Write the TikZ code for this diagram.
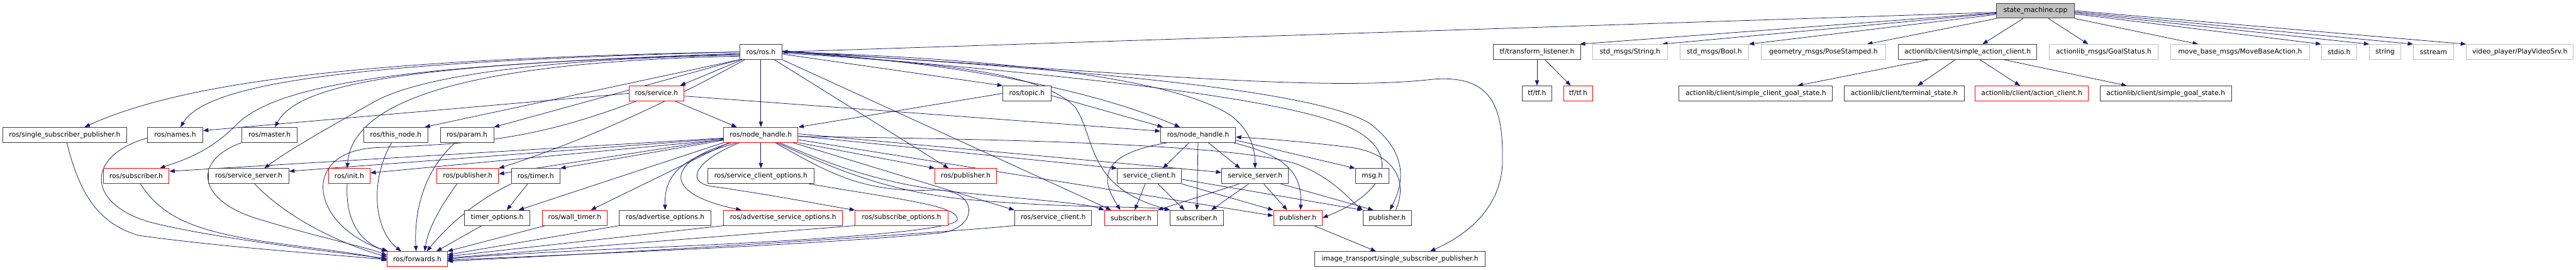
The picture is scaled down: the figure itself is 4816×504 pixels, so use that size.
\documentclass[tikz,border=0pt]{standalone}
\usepackage{fontspec}
\setmainfont{DejaVu Sans}
\usetikzlibrary{arrows.meta,backgrounds}
\definecolor{edgec}{HTML}{191970}
\definecolor{nblack}{HTML}{404040}
\definecolor{nred}{HTML}{FF0000}
\definecolor{ngray}{HTML}{BFBFBF}
\definecolor{smfill}{HTML}{BFBFBF}
\newcommand\graphfont{\fontsize{12.6}{15}\selectfont}
\tikzset{
  nbox/.style={draw=nblack, line width=1.1pt, minimum height=28pt, inner sep=0pt, font=\graphfont, fill=white},
  rbox/.style={nbox, draw=nred},
  gbox/.style={nbox, draw=ngray},
  dep/.style={draw=edgec, line width=0.9pt, -{Triangle[length=10pt,width=7.5pt]}, fill=none},
}
\begin{document}
\begin{tikzpicture}[x=1pt,y=1pt]
\useasboundingbox (0,0) rectangle (4816,-504);
% row 0
\node[nbox, fill=smfill, minimum width=145] (sm) at (3805.5,-20) {state\_machine.cpp};
% row 1
\node[nbox, minimum width=79] (rr) at (1422.5,-97) {ros/ros.h};
\node[nbox, minimum width=163] (tfl) at (2873.5,-97) {tf/transform\_listener.h};
\node[gbox, minimum width=139] (str) at (3047.5,-97) {std\_msgs/String.h};
\node[gbox, minimum width=128] (bool) at (3205,-97) {std\_msgs/Bool.h};
\node[gbox, minimum width=232] (pose) at (3409,-97) {geometry\_msgs/PoseStamped.h};
\node[nbox, minimum width=259] (sac) at (3678.5,-97) {actionlib/client/simple\_action\_client.h};
\node[gbox, minimum width=204] (gs) at (3933,-97) {actionlib\_msgs/GoalStatus.h};
\node[gbox, minimum width=260] (mb) at (4188,-97) {move\_base\_msgs/MoveBaseAction.h};
\node[gbox, minimum width=66] (stdio) at (4373,-97) {stdio.h};
\node[gbox, minimum width=58] (string) at (4459,-97) {string};
\node[gbox, minimum width=75] (sstream) at (4549.5,-97) {sstream};
\node[gbox, minimum width=200] (pv) at (4711,-97) {video\_player/PlayVideoSrv.h};
% row 2
\node[rbox, minimum width=103] (rsv) at (1227.5,-174.5) {ros/service.h};
\node[nbox, minimum width=90] (tp) at (1920,-174.5) {ros/topic.h};
\node[nbox, minimum width=55] (tf1) at (2873.5,-174.5) {tf/tf.h};
\node[rbox, minimum width=55] (tf2) at (2950.5,-174.5) {tf/tf.h};
\node[nbox, minimum width=287] (scgs) at (3282.5,-174.5) {actionlib/client/simple\_client\_goal\_state.h};
\node[nbox, minimum width=224] (ts) at (3560,-174.5) {actionlib/client/terminal\_state.h};
\node[rbox, minimum width=211] (ac) at (3798.5,-174.5) {actionlib/client/action\_client.h};
\node[nbox, minimum width=246] (sgs) at (4049,-174.5) {actionlib/client/simple\_goal\_state.h};
% row 3
\node[nbox, minimum width=232] (ssp) at (121,-252) {ros/single\_subscriber\_publisher.h};
\node[nbox, minimum width=103] (nm) at (327.5,-252) {ros/names.h};
\node[nbox, minimum width=104] (ms) at (504,-252) {ros/master.h};
\node[nbox, minimum width=120] (tn) at (740,-252) {ros/this\_node.h};
\node[nbox, minimum width=100] (pr) at (873,-252) {ros/param.h};
\node[rbox, minimum width=139] (nhr) at (1422.5,-252) {ros/node\_handle.h};
\node[nbox, minimum width=140] (nhb) at (2240,-252) {ros/node\_handle.h};
% row 4
\node[rbox, minimum width=123] (subros) at (254.5,-329) {ros/subscriber.h};
\node[nbox, minimum width=150] (ssros) at (465,-329) {ros/service\_server.h};
\node[rbox, minimum width=78] (init) at (653,-329) {ros/init.h};
\node[rbox, minimum width=115] (puba) at (874.5,-329) {ros/publisher.h};
\node[nbox, minimum width=91] (timer) at (1001.5,-329) {ros/timer.h};
\node[nbox, minimum width=199] (sco) at (1422.5,-329) {ros/service\_client\_options.h};
\node[rbox, minimum width=115] (pubx) at (1805.5,-329) {ros/publisher.h};
\node[nbox, minimum width=120] (sc) at (2149,-329) {service\_client.h};
\node[nbox, minimum width=125] (ss) at (2346.5,-329) {service\_server.h};
\node[nbox, minimum width=63] (msg) at (2565.5,-329) {msg.h};
% row 5
\node[nbox, minimum width=123] (tmo) at (929.5,-407) {timer\_options.h};
\node[rbox, minimum width=121] (wt) at (1074.5,-407) {ros/wall\_timer.h};
\node[nbox, minimum width=171] (ao) at (1243.5,-407) {ros/advertise\_options.h};
\node[rbox, minimum width=222] (aso) at (1464,-407) {ros/advertise\_service\_options.h};
\node[rbox, minimum width=173] (so) at (1685.5,-407) {ros/subscribe\_options.h};
\node[nbox, minimum width=144] (rsc) at (1969,-407) {ros/service\_client.h};
\node[rbox, minimum width=99] (subr) at (2114.5,-407) {subscriber.h};
\node[nbox, minimum width=99] (subb) at (2237.5,-407) {subscriber.h};
\node[rbox, minimum width=91] (pubr) at (2426.5,-407) {publisher.h};
\node[nbox, minimum width=91] (pubbk) at (2593.5,-407) {publisher.h};
% row 6
\node[rbox, minimum width=112] (fw) at (780,-484) {ros/forwards.h};
\node[nbox, minimum width=319] (it) at (2617.5,-484) {image\_transport/single\_subscriber\_publisher.h};

\begin{pgfonlayer}{background}
\fill[white] (0,0) rectangle (4816,-504);
% state_machine.cpp
\draw[dep] ([yshift=-3pt]sm.west) -- (rr.east);
\draw[dep] ([yshift=-4pt]sm.west) -- ([xshift=-2pt]tfl.north east);
\draw[dep] ([yshift=-5pt]sm.west) -- ([xshift=-10pt]str.north east);
\draw[dep] ([yshift=-7pt]sm.west) -- (bool.north east);
\draw[dep] (sm.south west) -- ([xshift=-35pt]pose.north east);
\draw[dep] ([xshift=-23pt]sm.south) -- ([xshift=28pt]sac.north);
\draw[dep] ([xshift=24pt]sm.south) -- ([xshift=-29pt]gs.north);
\draw[dep] (sm.south east) -- ([xshift=52pt]mb.north west);
\draw[dep] ([yshift=-6pt]sm.east) -- (stdio.north west);
\draw[dep] ([yshift=-4pt]sm.east) -- (string.north west);
\draw[dep] ([yshift=-2pt]sm.east) -- (sstream.north west);
\draw[dep] (sm.east) -- (pv.north west);
% simple_action_client
\draw[dep] ([xshift=-73pt]sac.south) -- ([xshift=78pt]scgs.north);
\draw[dep] ([xshift=-23pt]sac.south) -- ([xshift=25pt]ts.north);
\draw[dep] ([xshift=23pt]sac.south) -- ([xshift=-22pt]ac.north);
\draw[dep] ([xshift=68pt]sac.south) -- ([xshift=-73pt]sgs.north);
% transform_listener
\draw[dep] (tfl) -- (tf1);
\draw[dep] ([xshift=15pt]tfl.south) -- ([xshift=-14pt]tf2.north);
% ros/ros.h
\draw[dep] (rr.west) .. controls (700,-110) and (350,-150) .. ([xshift=37pt]ssp.north);
\draw[dep] (rr.west) .. controls (700,-115) and (390,-150) .. ([xshift=10pt]nm.north);
\draw[dep] ([yshift=-3pt]rr.west) .. controls (800,-120) and (560,-150) .. ([xshift=10pt]ms.north);
\draw[dep] ([yshift=-4pt]rr.west) .. controls (800,-120) and (520,-150) .. (440,-235) .. controls (390,-285) and (340,-300) .. ([xshift=44pt]subros.north);
\draw[dep] ([yshift=-6pt]rr.west) .. controls (1000,-110) and (780,-145) .. (700,-190) .. controls (620,-235) and (540,-280) .. ([xshift=29pt]ssros.north);
\draw[dep] ([yshift=-8pt]rr.west) .. controls (900,-115) and (660,-180) .. ([xshift=-4pt]init.north);
\draw[dep] (rr.south west) -- ([xshift=54pt]tn.north);
\draw[dep] (rr.south west) -- (pr.north east);
\draw[dep] ([xshift=5pt]rr.south west) -- ([xshift=44pt]rsv.north);
\draw[dep] ([xshift=10pt]rr.south west) .. controls (1250,-190) and (1100,-260) .. (puba.north east);
\draw[dep] (rr) -- (nhr);
\draw[dep] ([yshift=-4pt]rr.east) -- (tp.north west);
\draw[dep] ([xshift=-15pt]rr.south east) -- ([xshift=-32pt]pubx.north);
\draw[dep] (rr.south east) -- ([xshift=-37pt]subr.north);
\draw[dep] ([yshift=-2pt]rr.east) .. controls (1800,-120) and (1950,-140) .. (2010,-200) .. controls (2050,-260) and (2030,-350) .. (subb.north west);
\draw[dep] (rr.east) .. controls (1900,-110) and (2200,-150) .. (2300,-215) .. controls (2340,-245) and (2346,-280) .. (ss.north);
\draw[dep] (rr.east) .. controls (1700,-110) and (2000,-150) .. ([xshift=-34pt]nhb.north);
\draw[dep] ([yshift=2pt]rr.east) .. controls (2000,-130) and (2450,-165) .. (2560,-230) .. controls (2640,-290) and (2620,-350) .. ([xshift=5pt]pubbk.north);
\draw[dep] ([yshift=1pt]rr.east) .. controls (2000,-140) and (2450,-185) .. (2545,-250) .. controls (2620,-300) and (2580,-365) .. (pubr.east);
\draw[dep] (rr.east) .. controls (2000,-125) and (2450,-175) .. (2680,-148) .. controls (2790,-140) and (2810,-200) .. (2809,-300) .. controls (2808,-390) and (2740,-440) .. ([xshift=56pt]it.north);
% ros/service.h
\draw[dep] (rsv.west) -- ([yshift=8pt]nm.east);
\draw[dep] ([xshift=35pt]rsv.south) -- ([xshift=-45pt]nhr.north);
\draw[dep] ([yshift=-5pt]rsv.east) -- ([yshift=7pt]nhb.west);
\draw[dep] ([xshift=-38pt]rsv.south) .. controls (1000,-260) and (900,-268) .. (700,-276) .. controls (560,-285) and (580,-420) .. (fw.north west);
% ros/topic.h
\draw[dep] (tp.west) -- (nhr.north east);
\draw[dep] ([yshift=-4pt]tp.east) -- ([xshift=-66pt]nhb.north);
% ros/node_handle.h (red)
\draw[dep] (nhr) -- (sco);
\draw[dep] ([xshift=-45pt]nhr.south) .. controls (1300,-290) and (1241,-310) .. (ao.north);
\draw[dep] ([xshift=-55pt]nhr.south) .. controls (1250,-300) and (1230,-360) .. ([xshift=-78pt]aso.north);
\draw[dep] ([xshift=-40pt]nhr.south) .. controls (1300,-300) and (1280,-340) .. (1330,-348) .. controls (1450,-365) and (1550,-385) .. (so.north west);
\draw[dep] (nhr.south east) -- (pubx.north west);
\draw[dep] ([yshift=-8pt]nhr.west) -- ([yshift=4pt]puba.east);
\draw[dep] ([yshift=-10pt]nhr.west) -- (timer.north east);
\draw[dep] ([yshift=-9pt]nhr.west) -- ([yshift=6pt]init.east);
\draw[dep] ([yshift=-6pt]nhr.west) -- ([yshift=9pt]subros.east);
\draw[dep] ([yshift=-7pt]nhr.west) -- ([yshift=9pt]ssros.east);
\draw[dep] (nhr.south west) -- ([xshift=40pt]tmo.north);
\draw[dep] ([xshift=10pt]nhr.south west) -- ([xshift=30pt]wt.north);
\draw[dep] ([xshift=-10pt]nhr.south east) -- (rsc.north west);
\draw[dep] ([xshift=35pt]nhr.south) .. controls (1560,-310) and (1650,-345) .. (1800,-360) .. controls (1950,-375) and (2030,-380) .. (subr.north west);
\draw[dep] ([xshift=30pt]nhr.south) .. controls (1560,-315) and (1650,-355) .. (1800,-372) .. controls (2000,-390) and (2150,-385) .. (subb.north west);
\draw[dep] ([yshift=-2pt]nhr.east) -- (sc.north west);
\draw[dep] ([yshift=2pt]nhr.east) -- ([yshift=7pt]ss.west);
\draw[dep] ([yshift=-9pt]nhr.east) -- ([yshift=4pt]pubr.west);
\draw[dep] ([yshift=-3pt]nhr.east) .. controls (1900,-260) and (2300,-270) .. (2420,-305) .. controls (2490,-330) and (2520,-370) .. (pubbk.north west);
\draw[dep] ([xshift=27pt]nhr.south) .. controls (1560,-330) and (1620,-360) .. (1750,-355) .. controls (1830,-355) and (1830,-425) .. (1760,-435) .. controls (1500,-460) and (1000,-478) .. ([yshift=-2pt]fw.east);
\draw[dep] ([xshift=-10pt]sco.south east) .. controls (1700,-375) and (1790,-385) .. (1790,-410) .. controls (1790,-435) and (1400,-455) .. (1200,-463) .. controls (1000,-472) and (900,-478) .. (fw.east);
% ros/node_handle.h (black)
\draw[dep] ([xshift=-57pt]nhb.south) .. controls (2040,-290) and (2065,-345) .. ([xshift=-20pt]subr.north);
\draw[dep] ([xshift=-17pt]nhb.south) -- ([xshift=25pt]sc.north);
\draw[dep] (nhb) -- (subb);
\draw[dep] ([xshift=19pt]nhb.south) -- ([xshift=-28pt]ss.north);
\draw[dep] ([xshift=-5pt]nhb.south east) .. controls (2400,-290) and (2435,-320) .. ([xshift=5pt]pubr.north);
\draw[dep] ([yshift=-10pt]nhb.east) -- (msg.north west);
\draw[dep] ([xshift=16pt]pubbk.north) .. controls (2632,-340) and (2610,-290) .. (2530,-276) .. controls (2450,-266) and (2380,-260) .. ([yshift=-4pt]nhb.east);
% service_client.h
\draw[dep] ([xshift=-8pt]sc.south) -- ([xshift=7pt]subr.north);
\draw[dep] ([xshift=16pt]sc.south) -- ([xshift=-23pt]subb.north);
\draw[dep] (sc.south east) -- (pubr.north west);
\draw[dep] ([yshift=-6pt]sc.east) -- (pubbk.north west);
% service_server.h
\draw[dep] ([xshift=-30pt]ss.south) -- (subr.north east);
\draw[dep] ([xshift=-12pt]ss.south) -- ([xshift=27pt]subb.north);
\draw[dep] ([xshift=16pt]ss.south) -- ([xshift=-20pt]pubr.north);
\draw[dep] ([xshift=-15pt]ss.south east) -- ([xshift=-26pt]pubbk.north);
% publisher.h (red)
\draw[dep] ([xshift=30pt]pubr.south) -- ([xshift=-45pt]it.north);
% ros/timer.h
\draw[dep] ([xshift=-15pt]timer.south) -- ([xshift=18pt]tmo.north);
% into ros/forwards.h
\draw[dep] ([xshift=4pt]ssp.south) .. controls (150,-370) and (190,-420) .. (260,-440) .. controls (420,-462) and (600,-474) .. ([yshift=-1pt]fw.west);
\draw[dep] ([yshift=-6pt]nm.west) .. controls (160,-290) and (160,-380) .. (280,-415) .. controls (400,-445) and (600,-468) .. ([yshift=1pt]fw.west);
\draw[dep] ([xshift=8pt]subros.south) .. controls (300,-400) and (350,-430) .. (500,-452) .. controls (600,-466) and (680,-474) .. ([yshift=-3pt]fw.west);
\draw[dep] (ms.south west) .. controls (360,-300) and (370,-370) .. (470,-405) .. controls (580,-440) and (680,-460) .. ([yshift=7pt]fw.west);
\draw[dep] ([xshift=11pt]ssros.south) .. controls (530,-400) and (620,-450) .. ([yshift=4pt]fw.west);
\draw[dep] ([xshift=-4pt]init.south) .. controls (645,-420) and (680,-455) .. ([xshift=2pt]fw.north west);
\draw[dep] ([xshift=-8pt]tn.south) .. controls (690,-340) and (700,-430) .. ([xshift=-30pt]fw.north);
\draw[dep] ([xshift=-22pt]pr.south) .. controls (780,-330) and (775,-420) .. ([xshift=-2pt]fw.north);
\draw[dep] ([xshift=-20pt]puba.south) .. controls (820,-390) and (800,-430) .. ([xshift=14pt]fw.north);
\draw[dep] (timer.south west) .. controls (880,-380) and (830,-430) .. ([xshift=18pt]fw.north);
\draw[dep] ([xshift=-29pt]tmo.south) -- ([xshift=36pt]fw.north);
\draw[dep] ([xshift=-55pt]wt.south) -- (fw.north east);
\draw[dep] (ao.south west) -- ([yshift=8pt]fw.east);
\draw[dep] (aso.south west) -- ([yshift=5pt]fw.east);
\draw[dep] (so.south west) -- ([yshift=2pt]fw.east);
\draw[dep] (rsc.south west) .. controls (1700,-440) and (1200,-470) .. ([yshift=-4pt]fw.east);
\end{pgfonlayer}
\end{tikzpicture}
\end{document}
